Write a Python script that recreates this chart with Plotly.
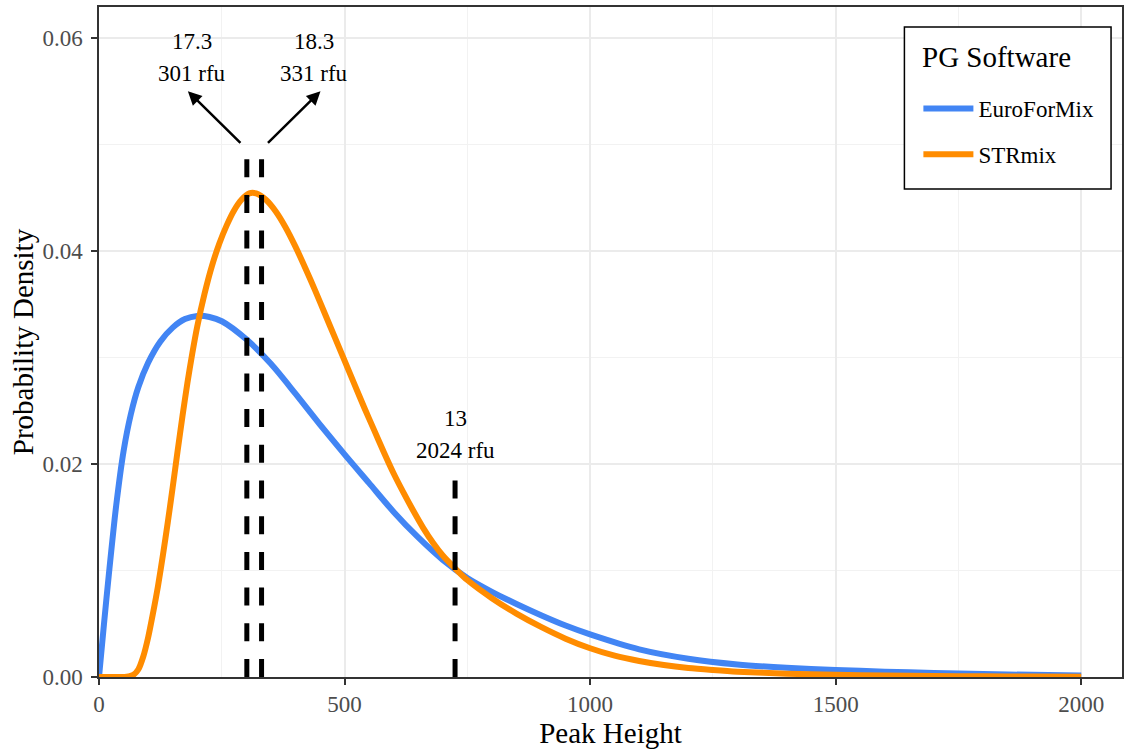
import plotly.graph_objects as go

# ---------------- data ----------------
series_names = ["EuroForMix", "STRmix"]

efm_x = [0, 10, 20, 35, 50, 65, 80, 100, 125, 150, 175, 200, 225, 250, 300, 350,
         400, 450, 500, 550, 600, 650, 700, 750, 800, 850, 900, 950, 1000, 1100,
         1200, 1300, 1400, 1500, 1600, 1700, 1800, 1900, 2000]
efm_y = [0.0, 0.0049, 0.0096, 0.0161, 0.0212, 0.0247, 0.0272, 0.0295, 0.0315,
         0.0328, 0.0336, 0.0339, 0.0338, 0.0334, 0.0317, 0.0294, 0.0266, 0.0237,
         0.0209, 0.0182, 0.0155, 0.0131, 0.0110, 0.0093, 0.0080, 0.00685, 0.0058,
         0.00483, 0.0040, 0.0026, 0.00172, 0.00118, 0.00087, 0.00066, 0.00050,
         0.00038, 0.00028, 0.00020, 0.00014]

str_x = [0, 40, 52, 60, 70, 80, 90, 100, 110, 120, 130, 140, 150, 160, 170, 180,
         190, 200, 215, 230, 245, 260, 275, 290, 306, 320, 340, 360, 380, 400, 420,
         440, 460, 480, 500, 520, 540, 560, 580, 600, 620, 640, 660, 680, 700, 725,
         750, 800, 850, 900, 950, 1000, 1050, 1100, 1150, 1200, 1250, 1300, 1400,
         1500, 1600, 1700, 1800, 1900, 2000]
str_y = [0.0, 0.0, 0.0, 0.00005, 0.0002, 0.0007, 0.0019, 0.0037, 0.0060, 0.0085,
         0.0114, 0.0145, 0.0178, 0.0212, 0.0245, 0.0276, 0.0304, 0.0329, 0.0360,
         0.0386, 0.0407, 0.0424, 0.0438, 0.0448, 0.0454, 0.0454, 0.0448, 0.0437,
         0.0422, 0.0404, 0.0384, 0.0363, 0.0341, 0.0319, 0.0297, 0.0275, 0.0253,
         0.0232, 0.0211, 0.0191, 0.0173, 0.0156, 0.0140, 0.0126, 0.0114, 0.0102,
         0.0091, 0.0074, 0.00595, 0.0047, 0.0036, 0.0027, 0.0020, 0.0015, 0.00112,
         0.00085, 0.00066, 0.00050, 0.00031, 0.00020, 0.00013, 0.00009, 0.00006,
         0.00004, 0.00003]

# dashed reference lines
marker_x = [301, 331, 725]
marker_top = [0.05, 0.05, 0.02]

# labels above the reference lines
label_x = [190, 438, 726]
label_top_text = ["17.3", "18.3", "13"]
label_bottom_text = ["301 rfu", "331 rfu", "2024 rfu"]
label_top_y = [0.0597, 0.0597, 0.0243]
label_bottom_y = [0.0567, 0.0567, 0.0213]

# arrows (tail -> head)
arrow_tail_x = [291, 341]
arrow_head_x = [181, 451]
arrow_tail_y = [0.050, 0.050]
arrow_head_y = [0.055, 0.055]

x_ticks = [0, 500, 1000, 1500, 2000]
y_ticks = [0.00, 0.02, 0.04, 0.06]

legend_title = "PG Software"

# ---------------- styling ----------------
FONT = "Liberation Serif"
colors = {"EuroForMix": "#4285F4", "STRmix": "#FF8C00"}

fig = go.Figure()

for name, xs, ys in [("EuroForMix", efm_x, efm_y), ("STRmix", str_x, str_y)]:
    fig.add_trace(go.Scatter(
        x=xs, y=ys, mode="lines", name=name, legendgroup=name,
        line=dict(color=colors[name], width=6, shape="spline", smoothing=0.8),
        hoverinfo="skip",
    ))

for mx, mt in zip(marker_x, marker_top):
    fig.add_trace(go.Scatter(
        x=[mx, mx], y=[0, mt], mode="lines", showlegend=False,
        line=dict(color="black", width=5, dash="18px,17.7px"),
        hoverinfo="skip",
    ))

annotations = []
for lx, t1, y1, t2, y2 in zip(label_x, label_top_text, label_top_y,
                              label_bottom_text, label_bottom_y):
    annotations.append(dict(x=lx, y=y1, xref="x", yref="y", text=t1,
                            showarrow=False, font=dict(family=FONT, size=23, color="black")))
    annotations.append(dict(x=lx, y=y2, xref="x", yref="y", text=t2,
                            showarrow=False, font=dict(family=FONT, size=23, color="black")))

for tx, ty, hx, hy in zip(arrow_tail_x, arrow_tail_y, arrow_head_x, arrow_head_y):
    annotations.append(dict(x=hx, y=hy, ax=tx, ay=ty, xref="x", yref="y",
                            axref="x", ayref="y", text="", showarrow=True,
                            arrowhead=2, arrowsize=1.1, arrowwidth=2.5,
                            arrowcolor="black", standoff=0, startstandoff=0))

# legend title (drawn as text inside the legend box)
annotations.append(dict(x=0.8029, y=0.9254, xref="paper", yref="paper",
                        xanchor="left", yanchor="middle", text=legend_title,
                        showarrow=False, font=dict(family=FONT, size=29, color="black")))

shapes = [dict(type="rect", xref="paper", yref="paper",
               x0=0.7873, x1=0.9893, y0=0.7284, y1=0.9701,
               line=dict(color="black", width=1.5), fillcolor="white", layer="above")]

fig.update_layout(
    width=1125, height=749,
    margin=dict(l=99, r=1, t=7, b=72),
    paper_bgcolor="white", plot_bgcolor="white",
    font=dict(family=FONT, color="black"),
    annotations=annotations,
    shapes=shapes,
    showlegend=True,
    legend=dict(
        font=dict(family=FONT, size=23, color="black"),
        x=(920 - 99) / 1025, y=(677 - 87) / 670, xanchor="left", yanchor="top",
        bgcolor="rgba(0,0,0,0)", borderwidth=0,
        tracegroupgap=13, itemwidth=50,
    ),
)

fig.update_xaxes(
    range=[0, 2083], tickvals=x_ticks, ticktext=[str(v) for v in x_ticks],
    showgrid=True, gridcolor="#EBEBEB", gridwidth=1.6,
    minor=dict(showgrid=True, gridcolor="#F2F2F2", gridwidth=0.8, dtick=250, tick0=0),
    showline=True, linecolor="#333333", linewidth=1.5, mirror=True,
    ticks="outside", ticklen=6, tickwidth=1.5, tickcolor="#333333",
    tickfont=dict(family=FONT, size=23, color="#4D4D4D"),
    zeroline=False,
    title=dict(text="Peak Height", font=dict(family=FONT, size=29, color="black"), standoff=4),
)
fig.update_yaxes(
    range=[0, 0.0629], tickvals=y_ticks, ticktext=[f"{v:.2f}" for v in y_ticks],
    showgrid=True, gridcolor="#EBEBEB", gridwidth=1.6,
    minor=dict(showgrid=True, gridcolor="#F2F2F2", gridwidth=0.8, dtick=0.01, tick0=0),
    showline=True, linecolor="#333333", linewidth=1.5, mirror=True,
    ticks="outside", ticklen=6, tickwidth=1.5, tickcolor="#333333",
    tickfont=dict(family=FONT, size=23, color="#4D4D4D"),
    ticklabelstandoff=4,
    zeroline=False,
    title=dict(text="Probability Density", font=dict(family=FONT, size=29, color="black"), standoff=0),
)

fig.write_html("out.html")
